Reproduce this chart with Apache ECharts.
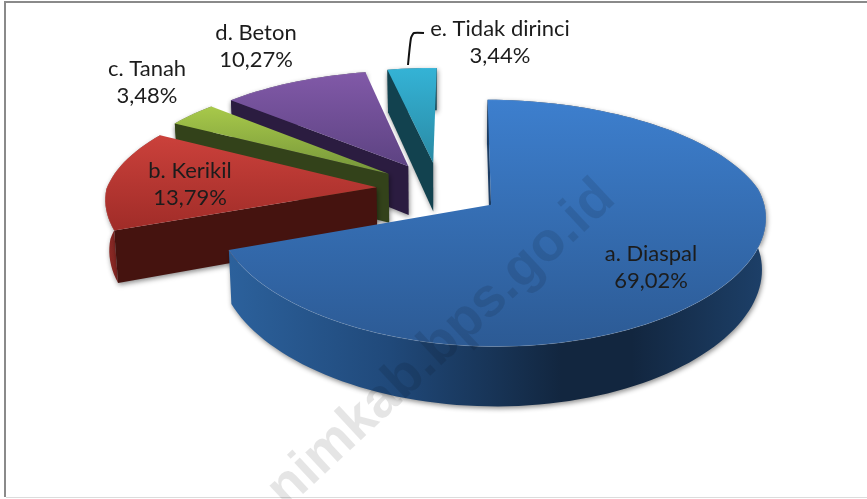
<!DOCTYPE html>
<html>
<head>
<meta charset="utf-8">
<style>
  html, body { margin: 0; padding: 0; background: #fff; }
  #chart { width: 867px; height: 499px; }
</style>
<script src="https://cdn.jsdelivr.net/npm/echarts@6/dist/echarts.min.js"></script>
</head>
<body>
<div id="chart"></div>
<script>
const categories = ['a. Diaspal', 'b. Kerikil', 'c. Tanah', 'd. Beton', 'e. Tidak dirinci'];
const values = [69.02, 13.79, 3.48, 10.27, 3.44];

// styling per slice, same order as categories
const topColors = [['#3d7fce', '#2c5a94'], ['#cb413b', '#a02c28'], ['#a8c94a', '#76963a'], ['#8159a8', '#5d4382'], ['#34b3d6', '#2a8aa4']];
const wallColors = ['#1c3d64', '#45130f', '#33421a', '#2b1c40', '#12424f'];
const arcStops = [
  [[0, '#2c619c'], [0.3, '#20497a'], [0.62, '#12263f'], [0.75, '#12263f'], [1, '#1d4069']],
  [[0, '#8e2a26'], [1, '#5c1714']],
  [[0, '#4c6122'], [1, '#33421a']],
  [[0, '#3d2a5c'], [1, '#2b1c40']],
  [[0, '#1c5666'], [1, '#12424f']]
];
const paintOrder = [5, 4, 3, 2, 1]; // blue goes last, on top of the others
const labelAnchors = [[651, 267], [190, 184], [147, 82], [256, 46], [500, 42]];

// pseudo 3D projection of the pie
const CX = 439, CY = 189, RX = 270, RY = 116;
const PERSP = 0.146, DEPTH = 50, SHRINK = 0.988, EXPLODE = 0.2325, ROT = 0.7;

const project = (a, b, low) => {
  const s = 1 / (1 - PERSP * b);
  // the front half spreads less sideways than it drops
  const sx = b > 0 ? 1 + (s - 1) * 0.6 : s;
  return [CX + RX * a * sx * (low ? SHRINK : 1), CY + RY * b * s + (low ? DEPTH * s : 0)];
};
const gradient = (x2, y2, stops) => new echarts.graphic.LinearGradient(0, 0, x2, y2,
  stops.map(([offset, color]) => ({ offset, color })));

const total = values.reduce((a, b) => a + b, 0);
const fmtPct = (v) => v.toFixed(2).replace('.', ',') + '%';

const renderSlice = (params) => {
  const i = params.dataIndex;
  const before = values.slice(0, i).reduce((a, b) => a + b, 0);
  const start = (before / total) * 360 + ROT;
  const end = ((before + values[i]) / total) * 360 + ROT;
  const mid = ((start + end) / 2) * Math.PI / 180;
  const ax = Math.sin(mid) * EXPLODE;
  const ay = -Math.cos(mid) * EXPLODE;

  const rim = [];
  const steps = Math.ceil((end - start) / 2);
  for (let k = 0; k <= steps; k++) {
    const t = (start + ((end - start) * k) / steps) * Math.PI / 180;
    rim.push([ax + Math.sin(t), ay - Math.cos(t)]);
  }
  const up = (p) => project(p[0], p[1], false);
  const down = (p) => project(p[0], p[1], true);
  const apex = [ax, ay];
  const first = rim[0];
  const z2 = paintOrder[i] * 3;
  const shadow = { shadowBlur: 5, shadowColor: 'rgba(0,0,0,0.45)', shadowOffsetX: 1, shadowOffsetY: 2 };

  const flat = (pts) => ({ type: 'polygon', z2, shape: { points: pts } });
  const children = [
    // outer wall
    { ...flat([...rim.map(up), ...rim.slice().reverse().map(down)]),
      style: { fill: gradient(1, 0, arcStops[i]), ...shadow } },
    // the cut wall facing us, the other one is never seen
    { ...flat([up(apex), up(first), down(first), down(apex)]), z2: z2 + 1,
      style: { fill: wallColors[i], ...shadow } },
    // top face
    { ...flat([up(apex), ...rim.map(up)]), z2: z2 + 2,
      style: { fill: gradient(0, 1, topColors[i].map((c, k) => [k, c])) } },
    // light bevel on the rim
    { type: 'polyline', z2: z2 + 2, shape: { points: rim.map(up) },
      style: { fill: null, stroke: 'rgba(255,255,255,0.12)', lineWidth: 1 } },
    { type: 'text', z2: 60, style: {
        text: categories[i] + '\n' + fmtPct(values[i]),
        x: labelAnchors[i][0], y: labelAnchors[i][1],
        align: 'center', verticalAlign: 'middle',
        fontFamily: 'Lato', fontSize: 22, lineHeight: 27, fill: '#1c1c1c' } }
  ];
  return { type: 'group', children };
};

const chart = echarts.init(document.getElementById('chart'), null, { renderer: 'canvas' });
chart.setOption({
  animation: false,
  backgroundColor: '#fff',
  series: [{ type: 'custom', coordinateSystem: 'none', renderItem: renderSlice, data: values, silent: true }],
  graphic: [
    // frame of the screenshot
    { type: 'rect', z: 1, shape: { x: 4, y: 1, width: 863, height: 2 }, style: { fill: '#8a8a8a' } },
    { type: 'rect', z: 1, shape: { x: 4, y: 1, width: 2, height: 496 }, style: { fill: '#8a8a8a' } },
    { type: 'rect', z: 1, shape: { x: 6, y: 497, width: 861, height: 1 }, style: { fill: '#dcdcdc' } },
    // leader line of e. Tidak dirinci
    { type: 'polyline', z: 20, shape: { points: [[408, 65], [411, 38], [414, 33], [424, 33]], smooth: 0.2 },
      style: { fill: null, stroke: '#111', lineWidth: 2 } },
    // watermark
    { type: 'text', z: 30, x: 607, y: 190, rotation: 43 * Math.PI / 180, silent: true,
      style: { text: 'nimkab.bps.go.id', align: 'right', verticalAlign: 'middle',
        fontFamily: 'Liberation Sans', fontWeight: 'bold', fontSize: 55, fill: 'rgba(0,0,0,0.1)' } }
  ]
});
window.addEventListener('resize', () => chart.resize());
</script>
</body>
</html>
